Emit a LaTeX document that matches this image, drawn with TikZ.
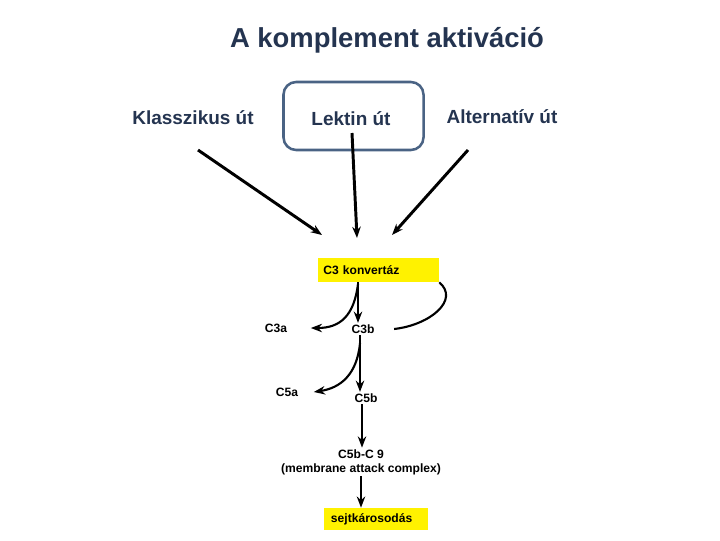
\documentclass[tikz,border=0pt]{standalone}
\usepackage{fontspec}
\setmainfont{Liberation Sans}
\usetikzlibrary{arrows.meta,positioning}
\definecolor{sotetkek}{HTML}{243450}
\definecolor{keret}{HTML}{4A6384}

\begin{document}
\begin{tikzpicture}[x=0.025cm,y=-0.025cm,>={Stealth[length=8pt,width=6pt]}]
  \tikzset{
    fejlec/.style={font=\fontsize{19.5}{22}\selectfont\bfseries,text=sotetkek},
    utvonal/.style={font=\fontsize{13.5}{16}\selectfont\bfseries,text=sotetkek},
    kicsi/.style={font=\fontsize{8.6}{10}\selectfont\bfseries,inner sep=1pt},
    sarga/.style={fill=yellow,inner ysep=0pt,align=left,font=\fontsize{8.6}{10}\selectfont\bfseries},
    nyil/.style={->,line width=2.1pt},
    gorbe/.style={->,line width=1.5pt}
  }
  \useasboundingbox (0,0) rectangle (720,540);
  \node[fejlec] (cim) at (387,40) {A komplement aktiváció};
  \node[utvonal] (klassz) at (193,118) {Klasszikus út};
  \node[draw=keret,line width=1.8pt,rounded corners=9pt,minimum width=3.5cm,minimum height=1.7cm] (lektinbox) at (353.5,116) {};
  \node[utvonal] (lektin) at (351,119) {Lektin út};
  \node[utvonal] (altern) at (502,117) {Alternatív út};

  \node[sarga,text width=2.75cm,inner xsep=0.1375cm,minimum height=0.6cm] (konv) at (378.5,270) {C3 konvertáz};
  \node[kicsi] (c3a) at (276,328) {C3a};
  \node[kicsi] (c3b) at (363,329) {C3b};
  \node[kicsi] (c5a) at (287,392) {C5a};
  \node[kicsi] (c5b) at (366,398) {C5b};
  \node[kicsi,align=center] (mac) at (361,462) {C5b-C 9\\(membrane attack complex)};
  \node[sarga,text width=2.25cm,inner xsep=0.175cm,minimum height=0.55cm] (sejt) at (376,519) {sejtkárosodás};

  % a harom ut
  \coordinate (k1) at (198,150);
  \coordinate (k2) at (322,235);
  \coordinate (l1) at (352,133);
  \coordinate (l2) at (357,238);
  \coordinate (a1) at (468,150);
  \coordinate (a2) at (392,235);
  \draw[nyil] (k1) -- (k2);
  \draw[nyil] (l1) -- (l2);
  \draw[nyil] (a1) -- (a2);

  % hasitas
  \coordinate (c3acel) at ([xshift=0.55cm]c3a.east);
  \coordinate (c5acel) at ([xshift=0.35cm]c5a.east);
  \coordinate (c3bjobb) at ([xshift=0.45cm]c3b.east);
  \draw[nyil] (358,282) -- (c3b.north -| 358,0);
  \draw[gorbe] (358,284) .. controls (354,316) and (340,328) .. (c3acel);
  \draw[line width=1.5pt] (c3bjobb) .. controls (430,325) and (460,300) .. (konv.south east);
  \draw[nyil] (c3b.south -| 360,0) -- (c5b.north -| 360,0);
  \draw[gorbe] (360,343) .. controls (357,375) and (340,388) .. (c5acel);
  \draw[nyil] (c5b.south -| 362,0) -- (mac.north -| 362,0);
  \draw[nyil] (mac.south -| 361,0) -- (sejt.north -| 361,0);
\end{tikzpicture}
\end{document}
